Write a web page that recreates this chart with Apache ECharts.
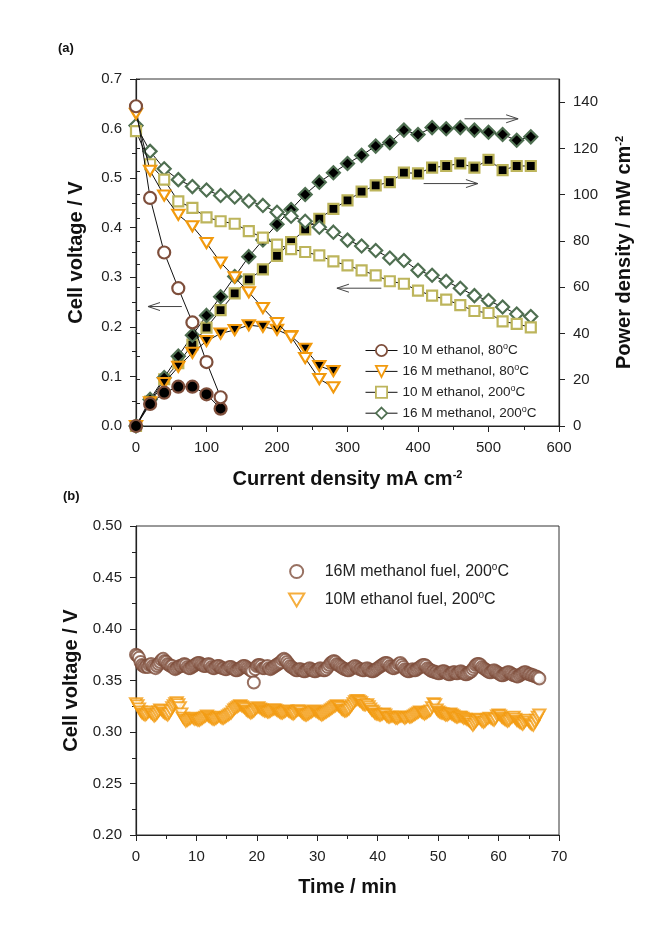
<!DOCTYPE html>
<html><head><meta charset="utf-8">
<script src="https://cdn.jsdelivr.net/npm/echarts@6/dist/echarts.min.js"></script>
<style>html,body{margin:0;padding:0;background:#fff}#c{width:649px;height:941px}</style>
</head><body><div id="c"></div><script>
// ---------- Panel (a) data ----------
var curEthanol80 = [0,20,40,60,80,100,120];
var vEthanol80 = [0.645,0.46,0.35,0.278,0.209,0.129,0.058];
var pEthanol80 = [0,9.5,14.4,17.0,17.0,13.7,7.5];

var curMethanol80 = [0,20,40,60,80,100,120,140,160,180,200,220,240,260,280];
var vMethanol80 = [0.63,0.515,0.465,0.426,0.403,0.369,0.33,0.30,0.27,0.238,0.208,0.18,0.137,0.095,0.078];
var pMethanol80 = [0,10.3,18.6,25.6,31.7,36.7,40.0,41.5,43.6,42.9,41.6,38.9,33.4,25.9,23.8];

var cur200 = [0,20,40,60,80,100,120,140,160,180,200,220,240,260,280,300,320,340,360,380,400,420,440,460,480,500,520,540,560];
var vEthanol200 = [0.595,0.528,0.497,0.453,0.44,0.421,0.413,0.408,0.393,0.38,0.366,0.357,0.351,0.344,0.332,0.324,0.314,0.304,0.292,0.287,0.273,0.263,0.255,0.244,0.232,0.228,0.211,0.206,0.199];
var pEthanol200 = [0,10.6,20.2,27.2,35.2,42.5,50.1,57.3,63.4,67.7,73.5,79.5,85.0,89.6,93.9,97.5,101.3,104.0,105.4,109.5,109.2,111.7,112.4,113.5,111.7,115.0,110.6,112.4,112.4];
var vMethanol200 = [0.606,0.554,0.519,0.497,0.483,0.476,0.465,0.462,0.454,0.445,0.431,0.423,0.413,0.401,0.391,0.375,0.363,0.354,0.339,0.334,0.314,0.304,0.292,0.278,0.263,0.253,0.240,0.226,0.221];
var pMethanol200 = [0,11.5,20.9,30.2,39.2,47.8,55.9,64.6,73.2,80.4,87.2,93.6,100.1,105.4,109.5,113.5,117.0,121.0,122.5,127.9,126.0,129.0,128.5,129.0,127.9,127.0,126.0,123.5,125.0];

var legendA = ['10 M ethanol, 80°C','16 M methanol, 80°C','10 M ethanol, 200°C','16 M methanol, 200°C'];

// ---------- Panel (b) data (time every 0.25 min) ----------
var timeStep = 0.25;
var vMethanolTime = [
0.375,0.374,0.372,0.368,0.365,0.364,0.363,0.364,0.363,0.365,0.366,0.364,0.363,0.362,0.364,0.366,0.368,0.370,0.371,0.369,
0.368,0.366,0.365,0.364,0.364,0.362,0.361,0.362,0.363,0.364,0.364,0.365,0.366,0.365,0.363,0.362,0.362,0.363,0.364,0.365,
0.366,0.367,0.367,0.366,0.365,0.364,0.364,0.365,0.366,0.365,0.363,0.362,0.362,0.363,0.364,0.364,0.363,0.362,0.362,0.361,
0.361,0.362,0.363,0.363,0.362,0.361,0.360,0.360,0.361,0.362,0.363,0.364,0.364,0.363,0.362,0.361,0.360,0.359,0.348,0.361,
0.364,0.365,0.365,0.364,0.362,0.362,0.363,0.364,0.362,0.361,0.362,0.363,0.364,0.365,0.366,0.367,0.368,0.370,0.371,0.370,
0.368,0.366,0.364,0.363,0.362,0.361,0.360,0.360,0.361,0.361,0.360,0.359,0.359,0.360,0.361,0.362,0.361,0.360,0.359,0.359,
0.360,0.361,0.362,0.361,0.360,0.360,0.361,0.363,0.365,0.367,0.368,0.369,0.368,0.366,0.365,0.364,0.363,0.362,0.361,0.361,
0.360,0.360,0.361,0.362,0.363,0.364,0.363,0.362,0.361,0.361,0.360,0.360,0.361,0.362,0.361,0.360,0.359,0.359,0.360,0.361,
0.362,0.363,0.364,0.365,0.366,0.367,0.367,0.366,0.364,0.363,0.362,0.362,0.363,0.364,0.366,0.367,0.365,0.363,0.361,0.360,
0.359,0.359,0.360,0.361,0.360,0.360,0.361,0.362,0.363,0.364,0.365,0.365,0.364,0.362,0.361,0.360,0.359,0.359,0.358,0.358,
0.357,0.357,0.358,0.359,0.359,0.358,0.357,0.356,0.356,0.357,0.358,0.358,0.357,0.357,0.358,0.359,0.358,0.357,0.356,0.356,
0.357,0.358,0.359,0.361,0.363,0.365,0.366,0.366,0.365,0.363,0.362,0.361,0.360,0.359,0.358,0.358,0.359,0.360,0.359,0.358,
0.357,0.356,0.355,0.355,0.356,0.357,0.358,0.358,0.357,0.356,0.355,0.355,0.354,0.354,0.355,0.356,0.357,0.358,0.358,0.357,
0.356,0.356,0.355,0.355,0.354,0.354,0.353,0.352];
var vEthanolTime = [
0.328,0.326,0.323,0.320,0.318,0.317,0.316,0.317,0.319,0.320,0.318,0.317,0.315,0.316,0.318,0.320,0.322,0.321,0.319,0.318,
0.317,0.316,0.318,0.321,0.324,0.326,0.328,0.329,0.327,0.324,0.318,0.314,0.312,0.310,0.311,0.312,0.313,0.314,0.313,0.312,
0.312,0.311,0.311,0.312,0.313,0.314,0.315,0.316,0.315,0.314,0.313,0.312,0.312,0.313,0.314,0.315,0.314,0.313,0.313,0.314,
0.315,0.316,0.317,0.318,0.320,0.322,0.323,0.324,0.325,0.326,0.325,0.324,0.323,0.321,0.320,0.319,0.318,0.319,0.320,0.322,
0.323,0.324,0.323,0.322,0.321,0.320,0.320,0.319,0.319,0.320,0.321,0.322,0.322,0.321,0.320,0.319,0.318,0.318,0.319,0.320,
0.321,0.320,0.319,0.318,0.317,0.318,0.320,0.321,0.321,0.320,0.318,0.317,0.316,0.316,0.317,0.318,0.319,0.320,0.321,0.320,
0.319,0.318,0.317,0.316,0.317,0.318,0.319,0.320,0.321,0.322,0.323,0.324,0.325,0.326,0.325,0.324,0.322,0.321,0.320,0.320,
0.321,0.322,0.324,0.326,0.328,0.330,0.331,0.331,0.330,0.329,0.327,0.326,0.326,0.327,0.325,0.323,0.321,0.320,0.318,0.317,
0.317,0.316,0.316,0.317,0.318,0.317,0.315,0.314,0.314,0.315,0.315,0.314,0.313,0.313,0.314,0.315,0.315,0.314,0.313,0.314,
0.315,0.314,0.314,0.315,0.316,0.317,0.318,0.319,0.320,0.319,0.318,0.317,0.318,0.319,0.320,0.321,0.324,0.328,0.327,0.322,
0.320,0.319,0.318,0.318,0.317,0.316,0.316,0.317,0.318,0.317,0.316,0.315,0.314,0.314,0.315,0.315,0.314,0.313,0.313,0.312,
0.311,0.310,0.308,0.306,0.308,0.310,0.312,0.313,0.312,0.310,0.309,0.310,0.312,0.313,0.314,0.313,0.312,0.311,0.313,0.316,
0.317,0.316,0.314,0.313,0.312,0.311,0.310,0.311,0.313,0.314,0.315,0.313,0.311,0.310,0.309,0.308,0.307,0.309,0.311,0.312,
0.310,0.308,0.307,0.306,0.309,0.312,0.315,0.317];
var legendB = ['16M methanol fuel, 200°C','10M ethanol fuel, 200°C'];

// ---------- styles ----------
var FONT = 'Liberation Sans, Arial, sans-serif';
var C_BROWN = '#7e4e3b', C_ORANGE = '#f29a0e', C_OLIVE = '#bdb55c', C_GREEN = '#4f6f51';
var TRI_DOWN = 'path://M0,0L20,0L10,17Z';

function pairs(xs, ys){ return xs.map(function(x,i){ return [x, ys[i]]; }); }
function lineS(name, xs, ys, yIdx, symbol, size, fill, edge, z){
  return {type:'line', name:name, xAxisIndex:0, yAxisIndex:yIdx, data:pairs(xs,ys),
    symbol:symbol, symbolSize:size, showAllSymbol:true, animation:false, z:z,
    itemStyle:{color:fill, borderColor:edge, borderWidth:2.2},
    lineStyle:{color:'#111', width:1}, emphasis:{disabled:true}};
}
var tB = vMethanolTime.map(function(_,i){ return i*timeStep; });

var supRich = {sup:{fontSize:11, fontFamily:FONT, fontWeight:'bold', color:'#111', verticalAlign:'top', padding:[0,0,10,0]}};
var supRichN = {sup:{fontSize:9, fontFamily:FONT, color:'#222', verticalAlign:'top', padding:[0,0,8,0]}};

function axisCommon(){
  return {
    axisLine:{show:true, onZero:false, lineStyle:{color:'#222', width:1.2}},
    axisTick:{show:true, inside:false, length:6, lineStyle:{color:'#222', width:1}},
    minorTick:{show:true, splitNumber:2, length:4, lineStyle:{color:'#222', width:1}},
    splitLine:{show:false}, minorSplitLine:{show:false},
    axisLabel:{fontFamily:FONT, fontSize:15, color:'#222', margin:14},
    nameTextStyle:{fontFamily:FONT, fontSize:20, fontWeight:'bold', color:'#111', rich:supRich}
  };
}
function merge(a,b){ for (var k in b) a[k]=b[k]; return a; }

var chart = echarts.init(document.getElementById('c'), null, {renderer:'canvas'});
var option = {
  backgroundColor:'#fff',
  animation:false,
  title:[
    {text:'(a)', left:53, top:37, textStyle:{fontFamily:FONT, fontSize:13, fontWeight:'bold', color:'#111'}},
    {text:'(b)', left:58, top:485, textStyle:{fontFamily:FONT, fontSize:13, fontWeight:'bold', color:'#111'}}
  ],
  grid:[
    {left:136, right:90, top:79, height:347, show:true, borderColor:'#333', borderWidth:1, backgroundColor:'transparent'},
    {left:136, right:90, top:526, height:309, show:true, borderColor:'#333', borderWidth:1, backgroundColor:'transparent'}
  ],
  legend:[
    {data:legendA, left:360, top:337, orient:'vertical', itemWidth:32, itemHeight:14, itemGap:5.4,
     itemStyle:{borderWidth:1.8}, lineStyle:{width:1, color:'#111'},
     formatter:function(n){ return n.replace('°','{sup|o}'); },
     textStyle:{fontFamily:FONT, fontSize:13.5, color:'#222', rich:supRichN}},
    {data:legendB, left:283, top:557, orient:'vertical', itemWidth:28, itemHeight:13, itemGap:11,
     itemStyle:{borderWidth:2},
     formatter:function(n){ return n.replace('°','{sup|o}'); },
     textStyle:{fontFamily:FONT, fontSize:16, color:'#222', padding:[0,0,0,9], rich:{sup:{fontSize:10, fontFamily:FONT, color:'#222', verticalAlign:'top', padding:[0,0,9,0]}}}}
  ],
  xAxis:[
    merge(axisCommon(), {type:'value', gridIndex:0, min:0, max:600, interval:100,
      name:'Current density mA cm{sup|-2}', nameLocation:'middle', nameGap:43}),
    merge(axisCommon(), {type:'value', gridIndex:1, min:0, max:70, interval:10,
      name:'Time / min', nameLocation:'middle', nameGap:42})
  ],
  yAxis:[
    merge(axisCommon(), {type:'value', gridIndex:0, min:0, max:0.7, interval:0.1, position:'left',
      axisLabel:{fontFamily:FONT, fontSize:15, color:'#222', margin:14, formatter:function(v){return v.toFixed(1);}},
      name:'Cell voltage / V', nameLocation:'middle', nameGap:50}),
    merge(axisCommon(), {type:'value', gridIndex:0, min:0, max:150, interval:20, position:'right',
      minorTick:{show:false},
      axisLabel:{fontFamily:FONT, fontSize:15, color:'#222', margin:14, showMaxLabel:false,
        formatter:function(v){ return v>140 ? '' : String(v); }},
      name:'Power density / mW cm{sup|-2}', nameLocation:'middle', nameGap:55, nameRotate:90}),
    merge(axisCommon(), {type:'value', gridIndex:1, min:0.2, max:0.5, interval:0.05, position:'left',
      axisLabel:{fontFamily:FONT, fontSize:15, color:'#222', margin:14, formatter:function(v){return v.toFixed(2);}},
      name:'Cell voltage / V', nameLocation:'middle', nameGap:55}),
    // minor ticks for the right axis (every 10)
    {type:'value', gridIndex:0, min:0, max:150, interval:10, position:'right',
      axisLine:{show:false}, axisLabel:{show:false}, splitLine:{show:false},
      axisTick:{show:true, length:4, lineStyle:{color:'#222', width:1}}}
  ],
  series:[
    lineS('P ethanol 200', cur200, pEthanol200, 1, 'rect', 10, '#000', C_OLIVE, 3),
    lineS('P methanol 200', cur200, pMethanol200, 1, 'diamond', 13, '#000', C_GREEN, 3),
    lineS('P methanol 80', curMethanol80, pMethanol80, 1, TRI_DOWN, [12,10], '#000', C_ORANGE, 4),
    lineS('P ethanol 80', curEthanol80, pEthanol80, 1, 'circle', 12, '#000', C_BROWN, 4),
    lineS(legendA[3], cur200, vMethanol200, 0, 'diamond', 13, '#fff', C_GREEN, 5),
    lineS(legendA[2], cur200, vEthanol200, 0, 'rect', 10, '#fff', C_OLIVE, 5),
    lineS(legendA[1], curMethanol80, vMethanol80, 0, TRI_DOWN, [12,10], '#fff', C_ORANGE, 6),
    lineS(legendA[0], curEthanol80, vEthanol80, 0, 'circle', 12, '#fff', C_BROWN, 6),
    {type:'scatter', name:legendB[0], xAxisIndex:1, yAxisIndex:2, data:pairs(tB, vMethanolTime),
      symbol:'circle', symbolSize:12, itemStyle:{color:'#fff', borderColor:C_BROWN, borderWidth:2}, animation:false},
    {type:'scatter', name:legendB[1], xAxisIndex:1, yAxisIndex:2, data:pairs(tB, vEthanolTime),
      symbol:TRI_DOWN, symbolSize:[12,10], itemStyle:{color:'#fff', borderColor:C_ORANGE, borderWidth:2}, animation:false}
  ]
};
chart.setOption(option);

// arrows (annotations in data units): [x from, x to, y, yAxisIndex]
var arrows = [[65,17,0.241,0],[348,285,0.278,0],[466,542,132.8,1],[408,485,104.8,1]];
var g = [];
arrows.forEach(function(a){
  var p1 = chart.convertToPixel({xAxisIndex:0, yAxisIndex:a[3]}, [a[0], a[2]]);
  var p2 = chart.convertToPixel({xAxisIndex:0, yAxisIndex:a[3]}, [a[1], a[2]]);
  var dir = p2[0] > p1[0] ? 1 : -1;
  var st = {stroke:'#444', lineWidth:1, fill:null};
  g.push({type:'line', shape:{x1:p1[0], y1:p1[1], x2:p2[0], y2:p2[1]}, style:st, z:10});
  g.push({type:'polyline', shape:{points:[[p2[0]-dir*12, p2[1]-4],[p2[0],p2[1]],[p2[0]-dir*12, p2[1]+4]]}, style:st, z:10});
});
chart.setOption({graphic:g});
</script></body></html>
